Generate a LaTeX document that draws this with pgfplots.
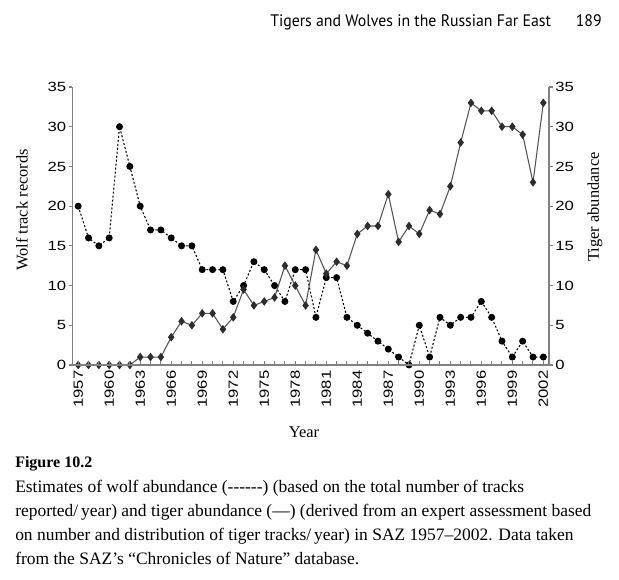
\documentclass[border=0pt]{standalone}
\usepackage{fontspec}
\setmainfont{Liberation Serif}
\newfontfamily\tickfont[FakeStretch=1.25]{Liberation Sans}
\newfontfamily\headfont[FakeStretch=0.95]{PT Sans}
\usepackage{pgfplots}
\usepackage{pgfplotstable}
\pgfplotsset{compat=1.18}

\definecolor{axisgray}{RGB}{128,128,128}
\definecolor{tigerline}{RGB}{85,85,85}
\definecolor{tigermark}{RGB}{45,45,45}

% Wolf track records and tiger abundance, SAZ 1957--2002
\pgfplotstableread{
year wolf tiger
1957 20 0
1958 16 0
1959 15 0
1960 16 0
1961 30 0
1962 25 0
1963 20 1
1964 17 1
1965 17 1
1966 16 3.5
1967 15 5.5
1968 15 5
1969 12 6.5
1970 12 6.5
1971 12 4.5
1972 8 6
1973 10 9.5
1974 13 7.5
1975 12 8
1976 10 8.5
1977 8 12.5
1978 12 10
1979 12 7.5
1980 6 14.5
1981 11 11.5
1982 11 13
1983 6 12.5
1984 5 16.5
1985 4 17.5
1986 3 17.5
1987 2 21.5
1988 1 15.5
1989 0 17.5
1990 5 16.5
1991 1 19.5
1992 6 19
1993 5 22.5
1994 6 28
1995 6 33
1996 8 32
1997 6 32
1998 3 30
1999 1 30
2000 3 29
2001 1 23
2002 1 33
}\datatable

\pgfplotsset{
  base/.style={
    scale only axis,
    width=357.4pt, height=208.5pt,
    at={(54.375pt,161.25pt)}, anchor=south west,
    xmin=1956.45, xmax=2002.55,
    ymin=0, ymax=35,
    axis line style={-, draw=axisgray, line width=0.9pt},
    every tick/.style={draw=axisgray, line width=0.8pt},
    major tick length=3pt, minor tick length=3pt,
    /pgf/number format/assume math mode=true,
    /pgf/number format/1000 sep={},
    ticklabel style={font=\tickfont\fontsize{10}{11}\selectfont, text=black},
    clip=false,
  },
  yside/.style={
    base, axis x line=none,
    ytick={0,5,...,35}, tick align=outside,
    yticklabel style={inner xsep=1.5pt},
  },
}

\begin{document}
\begin{tikzpicture}[x=0.75pt, y=0.75pt]
\path[use as bounding box] (0,0) rectangle (619,580);

% left scale: wolf track records (dashed, circles)
\begin{axis}[yside, axis y line*=left]
\addplot[black, line width=0.8pt, dash pattern=on 1.5pt off 1.5pt,
  mark=*, mark size=2.2pt, mark options={solid, fill=black}]
  table[x=year, y=wolf]{\datatable};
\end{axis}

% right scale: tiger abundance (solid, diamonds)
\begin{axis}[yside, axis y line*=right]
\addplot[tigerline, line width=0.8pt,
  mark=diamond*, mark size=2.6pt, mark options={fill=tigermark, draw=tigermark}]
  table[x=year, y=tiger]{\datatable};
\end{axis}

% shared year axis
\begin{axis}[base, axis y line=none, axis x line*=bottom,
  xtick={1957,1960,...,2002}, minor xtick={1957,...,2002},
  tick align=inside,
  xticklabel style={rotate=90, anchor=east, inner xsep=4pt}]
\addplot[draw=none] coordinates {(1957,0)};
\end{axis}

% axis titles
\node[rotate=90, font=\fontsize{12.3}{14}\selectfont] at (22,370) {Wolf track records};
\node[rotate=90, font=\fontsize{12.3}{14}\selectfont] at (595,373) {Tiger abundance};
\node[font=\fontsize{12.3}{14}\selectfont] at (304,148) {Year};

% running head
\node[anchor=base west, inner sep=0pt, font=\headfont\fontsize{12.5}{14}\selectfont]
  at (270,553.3) {Tigers and Wolves in the Russian Far East};
\node[anchor=base east, inner sep=0pt, font=\headfont\fontsize{12.5}{14}\selectfont]
  at (602,553.3) {189};

% caption
\begin{scope}[every node/.style={anchor=base west, inner sep=0pt,
    font=\fontsize{13.1}{15}\selectfont}]
\node[font=\bfseries\fontsize{12}{14}\selectfont] at (15,112) {Figure 10.2};
\node at (15,87) {Estimates of wolf abundance (-{}-{}-{}-{}-{}-) (based on the total number of tracks};
\node at (15,63) {reported/\,year) and tiger abundance (—) (derived from an expert assessment based};
\node at (15,39) {on number and distribution of tiger tracks/\,year) in SAZ 1957–2002. Data taken};
\node at (15,15) {from the SAZ’s “Chronicles of Nature” database.};
\end{scope}
\end{tikzpicture}
\end{document}
